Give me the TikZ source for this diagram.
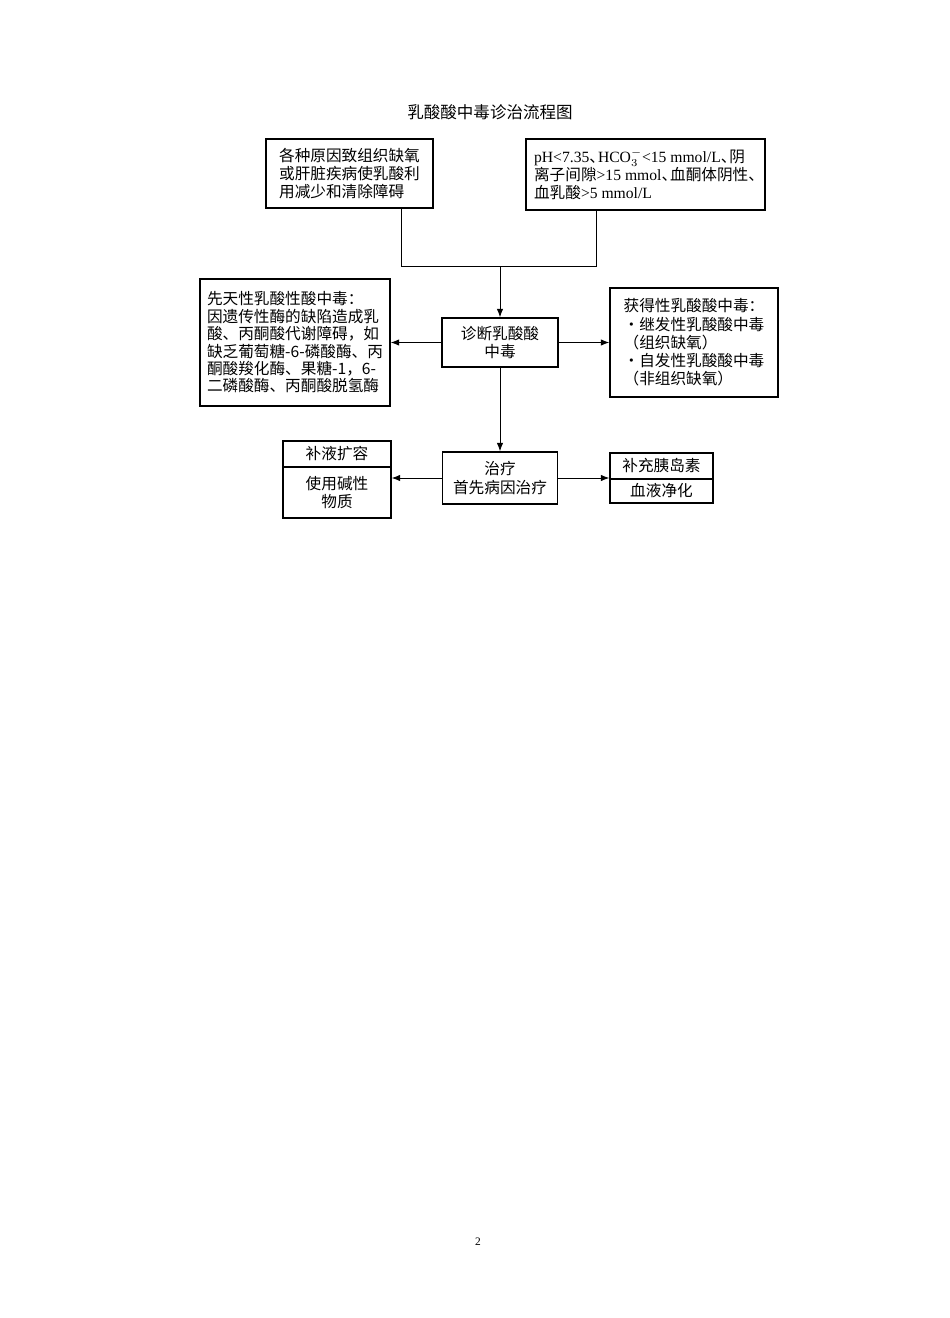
\documentclass[tikz,border=0pt]{standalone}
\usepackage{amsmath}
\usepackage{fontspec}
\setmainfont{Liberation Serif}
\newfontfamily\cjk{Noto Sans CJK SC}
\usepackage{tikz}
\usetikzlibrary{arrows.meta}
\newcommand{\lat}[1]{{\rmfamily #1}}
\newcommand{\dun}{、\kern-0.45em}

\begin{document}
\begin{tikzpicture}[>={Latex[length=1.7mm,width=1.3mm]},
    box/.style={shape=rectangle,draw=black,line width=0.8pt,inner sep=0pt,font=\cjk\fontsize{8.9}{10.4}\selectfont},
    link/.style={draw=black,line width=0.5pt}]
                \useasboundingbox (0,0) rectangle (19,-26.36);
                \node[font=\cjk\fontsize{9.4}{11}\selectfont] (T) at (9.8,-2.24) {乳酸酸中毒诊治流程图};

                \node[box,minimum width=3.34cm,minimum height=1.38cm,align=left] (A) at (6.99,-3.47) {各种原因致组织缺氧\\或肝脏疾病使乳酸利\\用减少和清除障碍};
                \node[box,minimum width=4.78cm,minimum height=1.42cm,align=left] (B) at (12.91,-3.49) {\lat{pH<7.35}\dun\lat{HCO$_3^-$<15 mmol/L}\dun 阴\\离子间隙\lat{>15 mmol}\dun 血酮体阴性\dun\\血乳酸\lat{>5 mmol/L}};
                \node[box,minimum width=2.32cm,minimum height=0.98cm,align=center] (C) at (10,-6.85) {诊断乳酸酸\\中毒};
                \node[box,minimum width=3.8cm,minimum height=2.54cm,align=left,font=\cjk\fontsize{8.9}{9.9}\selectfont] (D) at (5.9,-6.85) {先天性乳酸性酸中毒：\\因遗传性酶的缺陷造成乳\\酸、丙酮酸代谢障碍，如\\缺乏葡萄糖-6-磷酸酶、丙\\酮酸羧化酶、果糖-1，6-\\二磷酸酶、丙酮酸脱氢酶};
                \node[box,minimum width=3.36cm,minimum height=2.18cm,align=left] (E) at (13.88,-6.85) {获得性乳酸酸中毒：\\・继发性乳酸酸中毒\\（组织缺氧）\\・自发性乳酸酸中毒\\（非组织缺氧）};
                \node[box,minimum width=2.3cm,minimum height=1.04cm,align=center] (F) at (10,-9.56) {治疗\\首先病因治疗};
                \node[box,minimum width=2.16cm,minimum height=0.52cm] (G1) at (6.74,-9.08) {补液扩容};
                \node[box,minimum width=2.16cm,minimum height=1.02cm,align=center] (G2) at (6.74,-9.85) {使用碱性\\物质};
                \node[box,minimum width=2.06cm,minimum height=0.52cm] (H1) at (13.23,-9.32) {补充胰岛素};
                \node[box,minimum width=2.06cm,minimum height=0.48cm] (H2) at (13.23,-9.82) {血液净化};
                \node[font=\rmfamily\fontsize{6.5}{7}\selectfont] (P) at (9.56,-24.84) {2};

                \coordinate (J) at (10,-5.32);
                \draw[link] ([xshift=1.03cm]A.south) |- (J);
                \draw[link] ([xshift=-0.99cm]B.south) |- (J);
                \path [->](J) edge[link] (C);
                \path [->](C) edge[link] (D);
                \path [->](C) edge[link] (E);
                \path [->](C) edge[link] (F);
                \path [->](F.west) edge[link] (F.west -| G2.east);
                \path [->](F.east) edge[link] (F.east -| H1.west);
            \end{tikzpicture}
\end{document}
